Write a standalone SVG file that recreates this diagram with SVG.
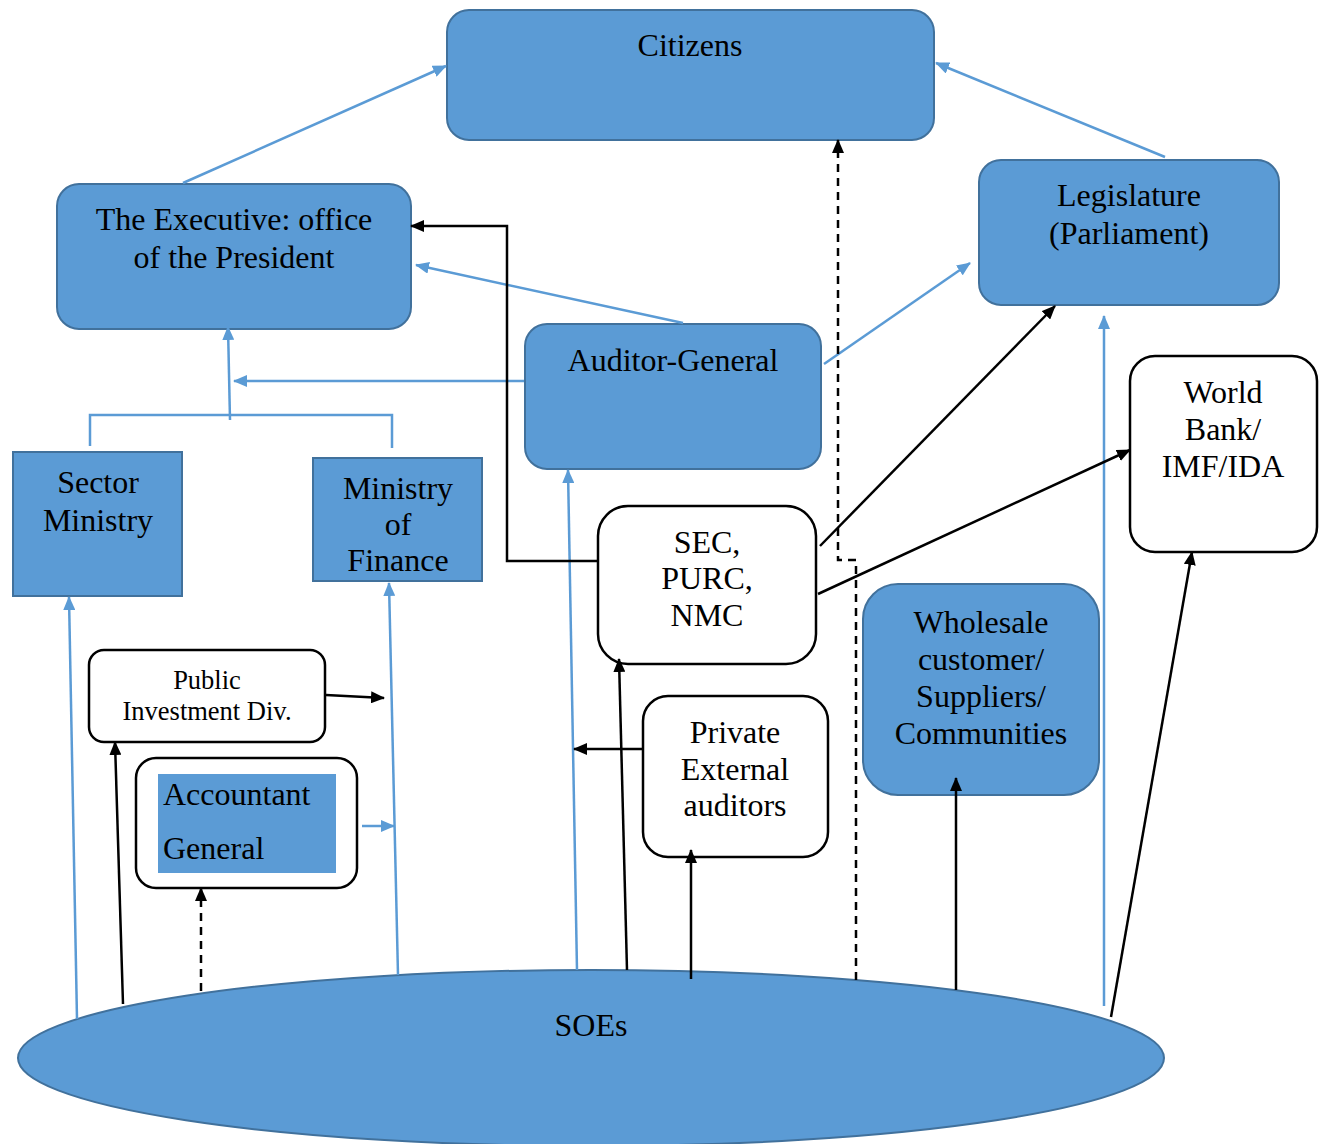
<svg xmlns="http://www.w3.org/2000/svg" width="1327" height="1144" viewBox="0 0 1327 1144">
<style>
text{font-family:"Liberation Serif","Times New Roman",serif;fill:#000;text-anchor:middle}
.t28{font-size:32px}
.t22{font-size:26.5px}
.bn{fill:#5B9BD5;stroke:#41719C;stroke-width:2}
.wn{fill:#fff;stroke:#000;stroke-width:2.5}
.bl{stroke:#5B9BD5;stroke-width:2.5;fill:none}
.bk{stroke:#000;stroke-width:2.5;fill:none}
.ds{stroke-dasharray:8 6}
</style>
<defs>
<marker id="ab" viewBox="0 0 14 12" refX="13" refY="6" markerWidth="14" markerHeight="12" markerUnits="userSpaceOnUse" orient="auto"><path d="M0,0L14,6L0,12z" fill="#5B9BD5"/></marker>
<marker id="ak" viewBox="0 0 14 12" refX="13" refY="6" markerWidth="14" markerHeight="12" markerUnits="userSpaceOnUse" orient="auto"><path d="M0,0L14,6L0,12z" fill="#000"/></marker>
</defs>
<rect width="1327" height="1144" fill="#fff"/>
<g id="citizens"><rect class="bn" x="447" y="10" width="487" height="130" rx="22"/><text class="t28" x="690" y="56">Citizens</text></g>
<g id="executive"><rect class="bn" x="57" y="184" width="354" height="145" rx="22"/><text class="t28" x="234" y="230">The Executive: office</text><text class="t28" x="234" y="268">of the President</text></g>
<g id="legislature"><rect class="bn" x="979" y="160" width="300" height="145" rx="22"/><text class="t28" x="1129" y="206">Legislature</text><text class="t28" x="1129" y="244">(Parliament)</text></g>
<g id="auditor-general"><rect class="bn" x="525" y="324" width="296" height="145" rx="22"/><text class="t28" x="673" y="371">Auditor-General</text></g>
<g id="sector-ministry"><rect class="bn" x="13" y="452" width="169" height="144"/><text class="t28" x="98" y="493">Sector</text><text class="t28" x="98" y="531">Ministry</text></g>
<g id="ministry-finance"><rect class="bn" x="313" y="458" width="169" height="123"/><text class="t28" x="398" y="499">Ministry</text><text class="t28" x="398" y="535">of</text><text class="t28" x="398" y="571">Finance</text></g>
<g id="sec"><rect class="wn" x="598" y="506" width="218" height="158" rx="30"/><text class="t28" x="707" y="553">SEC,</text><text class="t28" x="707" y="589">PURC,</text><text class="t28" x="707" y="626">NMC</text></g>
<g id="world-bank"><rect class="wn" x="1130" y="356" width="187" height="196" rx="25"/><text class="t28" x="1223" y="403">World</text><text class="t28" x="1223" y="440">Bank/</text><text class="t28" x="1223" y="477">IMF/IDA</text></g>
<g id="wholesale"><rect class="bn" x="863" y="584" width="236" height="211" rx="35"/><text class="t28" x="981" y="633">Wholesale</text><text class="t28" x="981" y="670">customer/</text><text class="t28" x="981" y="707">Suppliers/</text><text class="t28" x="981" y="744">Communities</text></g>
<g id="public-investment"><rect class="wn" x="89" y="650" width="236" height="92" rx="15"/><text class="t22" x="207" y="689">Public</text><text class="t22" x="207" y="720">Investment Div.</text></g>
<g id="accountant-general"><rect class="wn" x="136" y="758" width="221" height="130" rx="20"/><rect x="158" y="774" width="178" height="99" fill="#5B9BD5"/><text class="t28" x="163" y="805" style="text-anchor:start">Accountant</text><text class="t28" x="163" y="859" style="text-anchor:start">General</text></g>
<g id="private-auditors"><rect class="wn" x="643" y="696" width="185" height="161" rx="25"/><text class="t28" x="735" y="743">Private</text><text class="t28" x="735" y="780">External</text><text class="t28" x="735" y="816">auditors</text></g>
<g id="soes"><ellipse class="bn" cx="591" cy="1058" rx="573" ry="88"/><text class="t28" x="591" y="1036">SOEs</text></g>
<g id="connectors">
<line class="bl" x1="183" y1="183" x2="446" y2="66" marker-end="url(#ab)"/>
<line class="bl" x1="1165" y1="157" x2="936" y2="63" marker-end="url(#ab)"/>
<line class="bl" x1="683" y1="323" x2="416" y2="265" marker-end="url(#ab)"/>
<line class="bl" x1="824" y1="364" x2="970" y2="263" marker-end="url(#ab)"/>
<line class="bl" x1="524" y1="381" x2="234" y2="381" marker-end="url(#ab)"/>
<path class="bl" d="M90,446V415H392V448" stroke-width="1.5"/>
<line class="bl" x1="230" y1="420" x2="228" y2="327" marker-end="url(#ab)"/>
<line class="bl" x1="77" y1="1019" x2="69" y2="597" marker-end="url(#ab)"/>
<line class="bl" x1="398" y1="975" x2="389" y2="583" marker-end="url(#ab)"/>
<line class="bl" x1="577" y1="970" x2="568" y2="470" marker-end="url(#ab)"/>
<line class="bl" x1="1104" y1="1006" x2="1104" y2="316" marker-end="url(#ab)"/>
<line class="bl" x1="362" y1="826" x2="394" y2="826" marker-end="url(#ab)"/>
<path class="bk" d="M597,561H507V226H411" marker-end="url(#ak)"/>
<line class="bk" x1="820" y1="546" x2="1055" y2="306" marker-end="url(#ak)"/>
<line class="bk" x1="818" y1="594" x2="1130" y2="450" marker-end="url(#ak)"/>
<line class="bk" x1="123" y1="1004" x2="115" y2="742" marker-end="url(#ak)"/>
<line class="bk" x1="326" y1="695" x2="384" y2="698" marker-end="url(#ak)"/>
<line class="bk ds" x1="201" y1="991" x2="201" y2="888" marker-end="url(#ak)"/>
<line class="bk" x1="627" y1="970" x2="619" y2="659" marker-end="url(#ak)"/>
<line class="bk" x1="642" y1="749" x2="574" y2="749" marker-end="url(#ak)"/>
<line class="bk" x1="691" y1="979" x2="691" y2="850" marker-end="url(#ak)"/>
<path class="bk ds" d="M856,980V560H838V140" marker-end="url(#ak)"/>
<line class="bk" x1="956" y1="990" x2="956" y2="778" marker-end="url(#ak)"/>
<line class="bk" x1="1111" y1="1017" x2="1192" y2="552" marker-end="url(#ak)"/>
</g>
</svg>
